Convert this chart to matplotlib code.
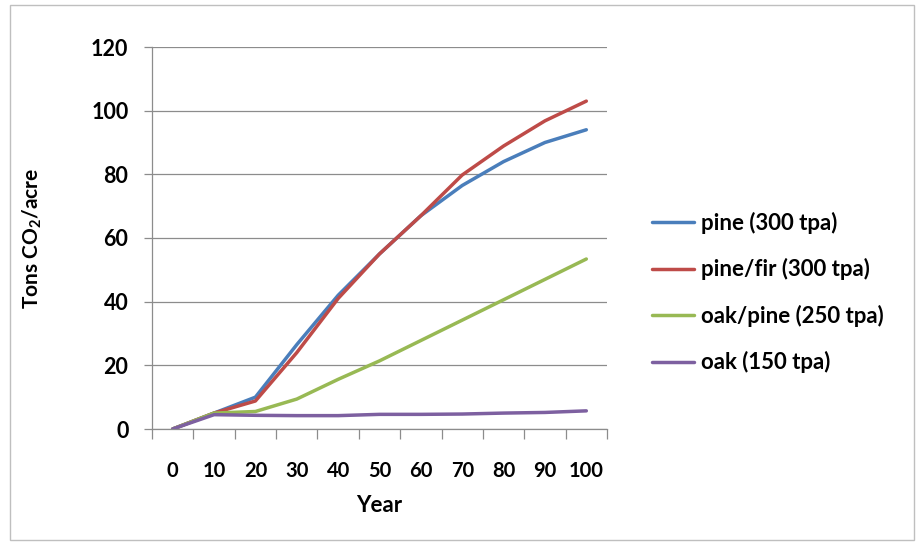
import numpy as np
import matplotlib.pyplot as plt
from matplotlib.patches import Rectangle

plt.rcParams['font.family'] = ['Lato', 'DejaVu Sans']
plt.rcParams['mathtext.fontset'] = 'custom'
plt.rcParams['mathtext.rm'] = 'Lato:bold'
plt.rcParams['mathtext.it'] = 'Lato:bold'
plt.rcParams['mathtext.bf'] = 'Lato:bold'

years = ["0", "10", "20", "30", "40", "50", "60", "70", "80", "90", "100"]
pine = [0, 5, 10, 26.5, 42, 55, 67, 76.5, 84, 90, 94]
pine_fir = [0, 5, 8.8, 24, 41, 55, 67, 79.8, 88.9, 96.8, 103]
oak_pine = [0, 5, 5.5, 9.4, 15.6, 21.4, 27.8, 34.2, 40.6, 47, 53.4]
oak = [0, 4.5, 4.3, 4.2, 4.2, 4.6, 4.6, 4.7, 5.0, 5.2, 5.7]

series = [
    (pine, "pine (300 tpa)", "#4a7ebb"),
    (pine_fir, "pine/fir (300 tpa)", "#be4b48"),
    (oak_pine, "oak/pine (250 tpa)", "#98b954"),
    (oak, "oak (150 tpa)", "#7d60a0"),
]

fig = plt.figure(figsize=(9.17, 5.45), dpi=100)
ax = fig.add_axes([152 / 917, 1 - 429 / 545, 455 / 917, 382 / 545])

x = np.arange(len(years))
for vals, name, col in series:
    ax.plot(x, vals, color=col, lw=2.5, label=name, solid_capstyle='round')

ax.set_xlim(-0.5, len(years) - 0.5)
ax.set_ylim(0, 120)
ax.set_yticks(np.arange(0, 121, 20))
ax.yaxis.grid(True, color="#8c8c8c", lw=0.9)
ax.set_axisbelow(True)

# category labels sit between the tick marks
ax.set_xticks(x)
ax.set_xticklabels(years)
ax.set_xticks(np.arange(-0.5, len(years)), minor=True)
ax.tick_params(axis='x', which='major', length=0, pad=23, labelsize=14.5)
ax.tick_params(axis='x', which='minor', length=7, color="#8c8c8c", width=0.9)
ax.tick_params(axis='y', length=6, color="#8c8c8c", width=0.9, pad=11,
               labelsize=15.5)
for lbl in ax.get_xticklabels() + ax.get_yticklabels():
    lbl.set_fontweight('bold')

for side in ['top', 'right']:
    ax.spines[side].set_visible(False)
for side in ['left', 'bottom']:
    ax.spines[side].set_color("#8c8c8c")
    ax.spines[side].set_linewidth(0.9)

ax.set_xlabel("Year", fontsize=16, fontweight='bold', labelpad=10)
ax.set_ylabel("Tons CO$_2$/acre", fontsize=15, fontweight='bold')
ax.yaxis.set_label_coords(-0.238, 0.5)

leg = ax.legend(loc='center left', bbox_to_anchor=(1.055, 0.357), frameon=False,
                fontsize=16, handlelength=1.9, labelspacing=1.1,
                handletextpad=0.3)
for t in leg.get_texts():
    t.set_fontweight('bold')

# outer chart border
fig.patches.append(Rectangle((10 / 917, 5 / 545), 904 / 917, 535 / 545,
                             transform=fig.transFigure, fill=False,
                             edgecolor="#bfbfbf", lw=1))

fig.savefig("out.png", dpi=100)
